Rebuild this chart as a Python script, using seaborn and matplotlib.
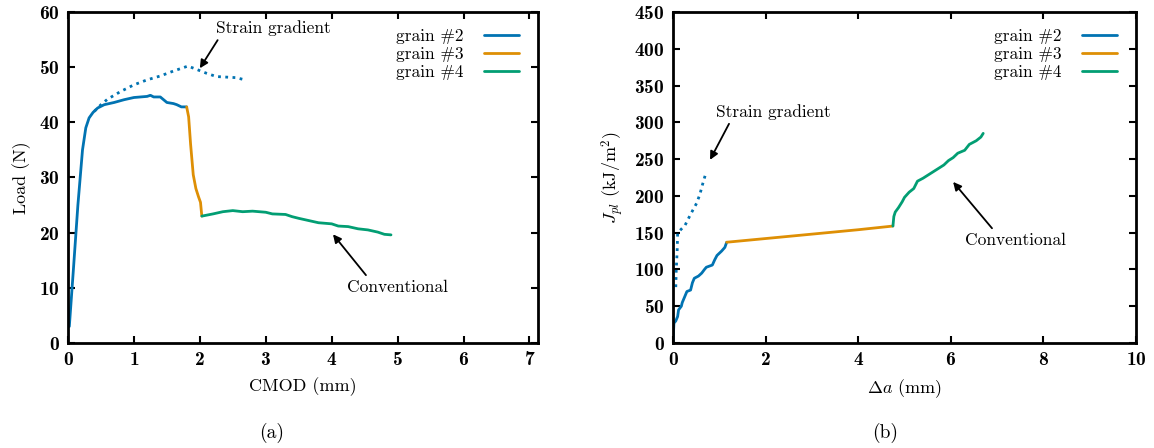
import pandas as pd
import matplotlib
matplotlib.use('Agg')
import seaborn as sns
import matplotlib.pyplot as plt

# (a) load vs CMOD
cmod_g2 = [0.02, 0.08, 0.15, 0.22, 0.27, 0.32, 0.38, 0.45, 0.55, 0.7, 0.85, 1.0, 1.1, 1.2, 1.25, 1.3, 1.4, 1.45, 1.5, 1.6, 1.65, 1.72, 1.8]
load_g2 = [3, 13, 25, 35, 39, 40.8, 41.8, 42.6, 43.2, 43.6, 44.1, 44.5, 44.6, 44.7, 44.9, 44.6, 44.6, 44.1, 43.6, 43.4, 43.2, 42.8, 42.8]
cmod_g3 = [1.8, 1.83, 1.86, 1.9, 1.94, 1.98, 2.01, 2.03]
load_g3 = [42.8, 41.0, 36.0, 30.5, 28.0, 26.5, 25.5, 23.0]
cmod_g4 = [2.03, 2.2, 2.35, 2.5, 2.65, 2.8, 3.0, 3.1, 3.3, 3.4, 3.5, 3.65, 3.8, 4.0, 4.1, 4.25, 4.4, 4.55, 4.7, 4.8, 4.9]
load_g4 = [23.0, 23.4, 23.8, 24.0, 23.8, 23.9, 23.7, 23.4, 23.3, 22.9, 22.6, 22.2, 21.8, 21.6, 21.2, 21.1, 20.7, 20.5, 20.1, 19.7, 19.6]
cmod_sg = [0.4, 0.5, 0.6, 0.8, 1.0, 1.2, 1.4, 1.6, 1.82, 1.95, 2.1, 2.25, 2.4, 2.55, 2.65]
load_sg = [42.0, 43.2, 44.2, 45.6, 46.8, 47.7, 48.4, 49.3, 50.2, 49.6, 48.9, 48.3, 48.2, 48.1, 47.8]

# (b) J_pl vs crack extension
da_g2 = [0.0, 0.02, 0.06, 0.1, 0.12, 0.18, 0.2, 0.26, 0.3, 0.38, 0.42, 0.46, 0.55, 0.62, 0.68, 0.72, 0.85, 0.9, 0.95, 1.05, 1.12, 1.16]
j_g2 = [0, 27, 30, 36, 45, 50, 55, 64, 70, 72, 82, 88, 91, 95, 100, 103, 106, 113, 119, 125, 130, 137]
da_g3 = [1.16, 2.5, 4.0, 4.75]
j_g3 = [137, 145, 154, 159]
da_g4 = [4.75, 4.77, 4.8, 4.87, 4.95, 5.0, 5.1, 5.2, 5.28, 5.4, 5.55, 5.7, 5.85, 5.95, 6.05, 6.15, 6.3, 6.4, 6.55, 6.65, 6.7]
j_g4 = [159, 172, 178, 184, 192, 198, 205, 210, 220, 224, 230, 236, 242, 248, 252, 258, 262, 270, 275, 280, 285]
da_sg = [0.06, 0.07, 0.09, 0.1, 0.15, 0.26, 0.38, 0.51, 0.58, 0.64, 0.71]
j_sg = [76, 100, 125, 149, 153, 160, 175, 190, 202, 216, 231]

labels = ['grain #2', 'grain #3', 'grain #4']
colors = sns.color_palette('colorblind')[:3]

sns.set_style('ticks')
plt.rcParams['font.family'] = ['cmr10', 'DejaVu Serif']
plt.rcParams['mathtext.fontset'] = 'cm'
plt.rcParams['axes.formatter.use_mathtext'] = True
plt.rcParams['axes.unicode_minus'] = False
plt.rcParams['axes.edgecolor'] = 'black'
plt.rcParams['xtick.color'] = 'black'
plt.rcParams['ytick.color'] = 'black'
plt.rcParams['text.color'] = 'black'
plt.rcParams['axes.labelcolor'] = 'black'

fig = plt.figure(figsize=(11.54, 4.48), dpi=100)
ax0 = fig.add_axes([68 / 1154, 105 / 448, 470 / 1154, 331 / 448])
ax1 = fig.add_axes([673 / 1154, 105 / 448, 463 / 1154, 331 / 448])


def draw(ax, segs, sg, xlim, ylim, yticks, xticks):
    for (x, y), lab, c in zip(segs, labels, colors):
        sns.lineplot(x=x, y=y, ax=ax, sort=False, estimator=None, color=c, lw=2, label=lab)
    sns.lineplot(x=sg[0], y=sg[1], ax=ax, sort=False, estimator=None, color=colors[0], lw=2,
                 linestyle=(0, (1, 1.6)), legend=False)
    ax.set_xlim(xlim)
    ax.set_ylim(ylim)
    ax.set_xticks(xticks)
    ax.set_yticks(yticks)
    ax.tick_params(direction='in', length=5, width=1.5, top=True, right=True, labelsize=14, pad=6)
    for lab in ax.get_xticklabels() + ax.get_yticklabels():
        lab.set_fontfamily('cmb10')
    for s in ax.spines.values():
        s.set_linewidth(2)
    leg = ax.legend(loc='upper right', markerfirst=False, frameon=False, fontsize=12.5,
                    handlelength=2.0, handletextpad=1.2, labelspacing=0.15,
                    bbox_to_anchor=(0.985, 0.985), borderaxespad=0.3)
    for t in leg.get_texts():
        t.set_fontfamily('cmr10')


draw(ax0, [(cmod_g2, load_g2), (cmod_g3, load_g3), (cmod_g4, load_g4)], (cmod_sg, load_sg),
     (0, 7.13), (0, 60), range(0, 61, 10), range(0, 8))
draw(ax1, [(da_g2, j_g2), (da_g3, j_g3), (da_g4, j_g4)], (da_sg, j_sg),
     (0, 10), (0, 450), range(0, 451, 50), range(0, 11, 2))

ax0.set_xlabel('CMOD (mm)', fontsize=13, labelpad=6)
ax0.set_ylabel('Load (N)', fontsize=13, labelpad=6)
ax1.set_xlabel(r'$\mathbf{\Delta}\mathit{a}$ (mm)', fontsize=13, labelpad=6)
ax1.set_ylabel(r'$J_{pl}$ (kJ/m$^2$)', fontsize=13, labelpad=6)

arrow = dict(arrowstyle='-|>', color='black', lw=1.3, mutation_scale=12, shrinkA=0, shrinkB=0)
ax0.annotate('', xy=(2.0, 49.8), xytext=(2.27, 54.9), arrowprops=arrow)
ax0.text(3.12, 57, 'Strain gradient', ha='center', va='center', fontsize=12.5)
ax0.annotate('', xy=(4.02, 19.7), xytext=(4.52, 12.3), arrowprops=arrow)
ax0.text(5.0, 10, 'Conventional', ha='center', va='center', fontsize=12.5)
ax1.annotate('', xy=(0.8, 249), xytext=(1.21, 298), arrowprops=arrow)
ax1.text(2.16, 314, 'Strain gradient', ha='center', va='center', fontsize=12.5)
ax1.annotate('', xy=(6.05, 219), xytext=(6.89, 156), arrowprops=arrow)
ax1.text(7.39, 140, 'Conventional', ha='center', va='center', fontsize=12.5)

fig.text(272 / 1154, 1 - 433 / 448, '(a)', ha='center', va='center', fontsize=14)
fig.text(885 / 1154, 1 - 433 / 448, '(b)', ha='center', va='center', fontsize=14)

fig.savefig('out.png', dpi=100)
plt.close()
